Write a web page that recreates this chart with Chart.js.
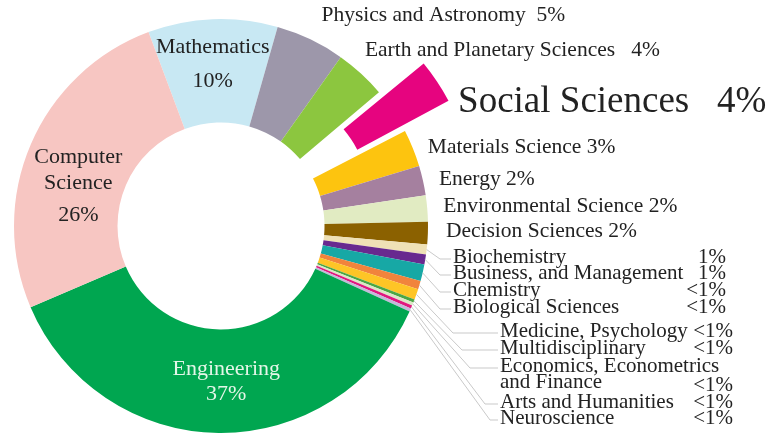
<!DOCTYPE html>
<html>
<head>
<meta charset="utf-8">
<script src="https://cdn.jsdelivr.net/npm/chart.js@4.4.1/dist/chart.umd.min.js"></script>
<style>
    html, body { margin: 0; padding: 0; background: #fff; }
    #wrap { width: 771px; height: 434px; }
</style>
</head>
<body>
<div id="wrap"><canvas id="subjectChart" width="771" height="434"></canvas></div>
<script>
// share of documents per subject area, clockwise from Mathematics
const subjects = [
    'Mathematics', 'Physics and Astronomy', 'Earth and Planetary Sciences', 'Social Sciences',
    'Materials Science', 'Energy', 'Environmental Science', 'Decision Sciences',
    'Biochemistry', 'Business, and Management', 'Chemistry', 'Biological Sciences',
    'Medicine, Psychology', 'Multidisciplinary', 'Economics, Econometrics and Finance',
    'Arts and Humanities', 'Neuroscience', 'Engineering', 'Computer Science'
];
const shares = [10.1, 5.4, 4.0, 3.6, 2.9, 2.3, 2.05, 1.75, 0.78, 0.78, 1.3, 0.65, 0.83, 0.25, 0.25, 0.25, 0.25, 36.8, 25.7];
const shareLabels = ['10%', '5%', '4%', '4%', '3%', '2%', '2%', '2%', '1%', '1%', '<1%', '<1%', '<1%', '<1%', '<1%', '<1%', '<1%', '37%', '26%'];

const colors = [
    '#c8e8f3', '#9d97aa', '#8cc63f', '#e6047f', '#fdc40f', '#a5809f', '#e1ebc2', '#8b6100',
    '#efe1b6', '#68298f', '#17a8a5', '#f1843c', '#fec526', '#4aa645', '#dbe7c6',
    '#e0187f', '#c4b8da', '#00a650', '#f7c6c2'
];
const explodedIndex = 3;

const FONT = '"Liberation Serif", "DejaVu Serif", serif';
const TEXT = '#222';

// label layout: 'inner' relative to slice middle, 'outer' relative to slice outer edge, 'list' with leader line
const labelLayout = {
    0: { type: 'inner', dx: -2, lines: [['Mathematics', -24], ['10%', 10]] },
    18: { type: 'inner', dx: 0, lines: [['Computer', -8], ['Science', 18], ['26%', 50]] },
    17: { type: 'inner', dx: 7, color: '#e3f6e8', lines: [['Engineering', -12], ['37%', 13]] },
    1: { type: 'outer', dx: 11, dy: -24, size: 21.5, text: 'Physics and Astronomy  5%' },
    2: { type: 'outer', dx: 4, dy: -23, size: 21.5, text: 'Earth and Planetary Sciences   4%' },
    3: { type: 'outer', dx: 65, dy: -9, size: 37, text: 'Social Sciences   4%' },
    4: { type: 'outer', dx: 15, dy: -1, size: 21.5, text: 'Materials Science 3%' },
    5: { type: 'outer', dx: 16, dy: -1.5, size: 21.5, text: 'Energy 2%' },
    6: { type: 'outer', dx: 16, dy: -2.5, size: 21.5, text: 'Environmental Science 2%' },
    7: { type: 'outer', dx: 18, dy: -2, size: 21.5, text: 'Decision Sciences 2%' },
    8: { type: 'list', x: 453, y: 257, elbow: 440, right: 726 },
    9: { type: 'list', x: 453, y: 273, elbow: 440, right: 726 },
    10: { type: 'list', x: 453, y: 290, elbow: 440, right: 726 },
    11: { type: 'list', x: 453, y: 307, elbow: 440, right: 726 },
    12: { type: 'list', x: 500, y: 331, elbow: 453, right: 733 },
    13: { type: 'list', x: 500, y: 348, elbow: 462, right: 733 },
    14: { type: 'list', x: 500, y: 366, elbow: 470, right: 733, name: ['Economics, Econometrics', 'and Finance'], pctY: 385 },
    15: { type: 'list', x: 500, y: 402, elbow: 485, right: 733 },
    16: { type: 'list', x: 500, y: 418, elbow: 490, right: 733 }
};

const sliceLabels = {
    id: 'sliceLabels',
    afterDatasetsDraw(chart) {
        const ctx = chart.ctx;
        const arcs = chart.getDatasetMeta(0).data;
        ctx.save();
        ctx.textBaseline = 'middle';
        Object.keys(labelLayout).forEach(key => {
            const i = Number(key);
            const cfg = labelLayout[i];
            const arc = arcs[i];
            const mid = (arc.startAngle + arc.endAngle) / 2;
            const cos = Math.cos(mid), sin = Math.sin(mid);
            ctx.font = (cfg.size || (cfg.type === 'list' ? 21 : 22)) + 'px ' + FONT;
            ctx.fillStyle = cfg.color || TEXT;

            if (cfg.type === 'inner') {
                const r = (arc.innerRadius + arc.outerRadius) / 2;
                const cx = arc.x + cos * r + cfg.dx;
                const cy = arc.y + sin * r;
                ctx.textAlign = 'center';
                cfg.lines.forEach(([t, dy]) => ctx.fillText(t, cx, cy + dy));
            } else if (cfg.type === 'outer') {
                const r = arc.outerRadius;
                ctx.textAlign = 'left';
                ctx.fillText(cfg.text, arc.x + cos * r + cfg.dx, arc.y + sin * r + cfg.dy);
            } else {
                const r = arc.outerRadius;
                const sx = arc.x + cos * r, sy = arc.y + sin * r;
                ctx.strokeStyle = '#c9c9c9';
                ctx.lineWidth = 1;
                ctx.beginPath();
                ctx.moveTo(sx, sy);
                ctx.lineTo(cfg.elbow, cfg.y + 2);
                ctx.lineTo(cfg.x - 2, cfg.y + 2);
                ctx.stroke();
                ctx.textAlign = 'left';
                const names = cfg.name || [subjects[i]];
                names.forEach((t, k) => ctx.fillText(t, cfg.x, cfg.y + k * 16));
                ctx.textAlign = 'right';
                ctx.fillText(shareLabels[i], cfg.right, cfg.pctY || cfg.y);
            }
        });
        ctx.restore();
    }
};

new Chart(document.getElementById('subjectChart'), {
    type: 'doughnut',
    data: {
        labels: subjects,
        datasets: [{
            data: shares,
            backgroundColor: colors,
            borderWidth: 0,
            offset: shares.map((v, i) => i === explodedIndex ? 119 : 0)
        }]
    },
    options: {
        responsive: false,
        animation: false,
        radius: 207,
        cutout: '50%',
        rotation: -20.5,
        layout: { padding: { left: 0, right: 329, top: 18, bottom: 0 } },
        plugins: {
            legend: { display: false },
            tooltip: { enabled: false }
        }
    },
    plugins: [sliceLabels]
});
</script>
</body>
</html>
